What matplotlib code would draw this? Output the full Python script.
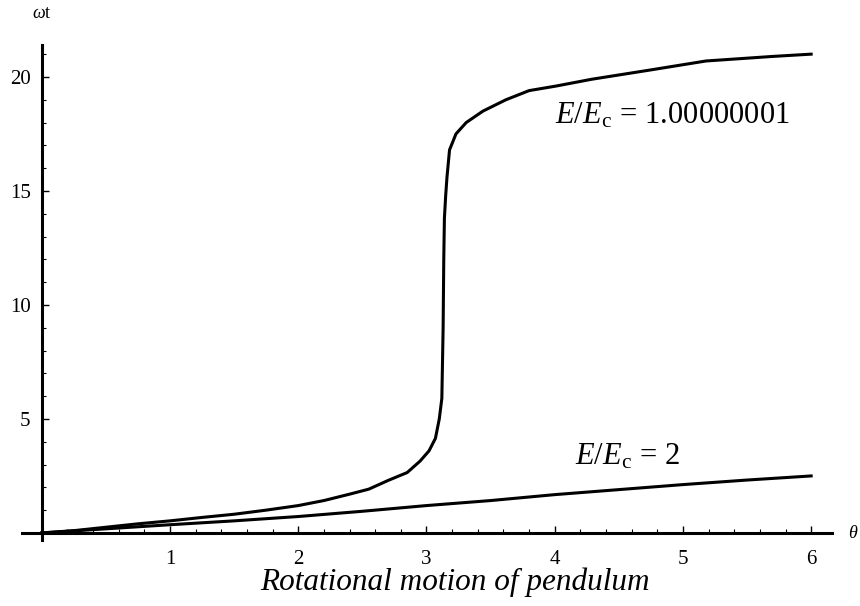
import numpy as np
import matplotlib
matplotlib.use("Agg")
import matplotlib.pyplot as plt
from matplotlib.ticker import FixedLocator

plt.rcParams["font.family"] = ["Liberation Serif", "DejaVu Serif"]
plt.rcParams["mathtext.fontset"] = "custom"
plt.rcParams["mathtext.rm"] = "Liberation Serif"
plt.rcParams["mathtext.it"] = "Liberation Serif:italic"

# theta (rad) vs omega*t
theta_near = [0, 0.25, 0.5, 0.75, 1.0, 1.25, 1.5, 1.75, 2.0, 2.2,
              2.4, 2.55, 2.7, 2.85, 2.95, 3.02, 3.07, 3.10, 3.12, 3.13,
              3.135, 3.14, 3.15, 3.16, 3.18, 3.23, 3.31, 3.44, 3.62, 3.80,
              4.01, 4.29, 4.74, 5.18, 5.70, 6.0]
wt_near = [0, 0.1, 0.25, 0.4, 0.53, 0.68, 0.82, 1.0, 1.2, 1.42,
           1.7, 1.92, 2.3, 2.65, 3.15, 3.6, 4.15, 5.0, 5.9, 9.0,
           12.0, 13.8, 14.8, 15.6, 16.8, 17.5, 18.0, 18.5, 19.0, 19.4,
           19.6, 19.9, 20.3, 20.7, 20.9, 21.0]

theta_two = [0, 0.5, 1.0, 1.5, 2.0, 2.5, 3.0, 3.5, 4.0, 4.5, 5.0, 5.5, 6.0]
wt_two = [0, 0.18, 0.36, 0.53, 0.72, 0.95, 1.2, 1.42, 1.68, 1.9, 2.12, 2.32, 2.5]

x_major = [1, 2, 3, 4, 5, 6]
y_major = [5, 10, 15, 20]

fig = plt.figure(figsize=(8.6, 6.06), dpi=100)
ax = fig.add_axes([0.0256, 0.1089, 0.9419, 0.8168])

ax.plot(theta_near, wt_near, color="black", lw=2.2, solid_joinstyle="round")
ax.plot(theta_two, wt_two, color="black", lw=2.2, solid_joinstyle="round")

ax.set_xlim(-0.154, 6.163)
ax.set_ylim(-0.31, 21.4)

for side in ["top", "right"]:
    ax.spines[side].set_visible(False)
ax.spines["left"].set_position(("data", 0))
ax.spines["bottom"].set_position(("data", 0))
ax.spines["left"].set_linewidth(2.2)
ax.spines["bottom"].set_linewidth(2.2)

ax.xaxis.set_major_locator(FixedLocator(x_major))
ax.yaxis.set_major_locator(FixedLocator(y_major))
x_minor = [round(0.2 * i, 1) for i in range(1, 31) if i % 5 != 0]
y_minor = [i for i in range(1, 22) if i % 5 != 0]
ax.xaxis.set_minor_locator(FixedLocator(x_minor))
ax.yaxis.set_minor_locator(FixedLocator(y_minor))

ax.tick_params(which="major", direction="in", length=5, width=1.0,
               labelsize=15)
ax.tick_params(which="minor", direction="in", length=3, width=0.8)
ax.tick_params(axis="x", which="major", pad=12)
ax.tick_params(axis="y", which="major", pad=8)

ax.text(4.0, 17.98, r"$E/E_{\rm c}\,=\,1.00000001$", fontsize=22,
        ha="left", va="baseline")
ax.text(4.16, 2.98, r"$E/E_{\rm c}\,=\,2$", fontsize=22,
        ha="left", va="baseline")

fig.text(42 / 860, 1 - 14 / 606, r"$\omega$t", fontsize=13,
         ha="center", va="center")
fig.text(848 / 860, 1 - 533 / 606, r"$\theta$", fontsize=13,
         ha="left", va="center")

fig.text(455 / 860, 1 - 590 / 606, "Rotational motion of pendulum",
         fontsize=22.5, style="italic", ha="center", va="baseline")

fig.savefig("out.png", dpi=100)
